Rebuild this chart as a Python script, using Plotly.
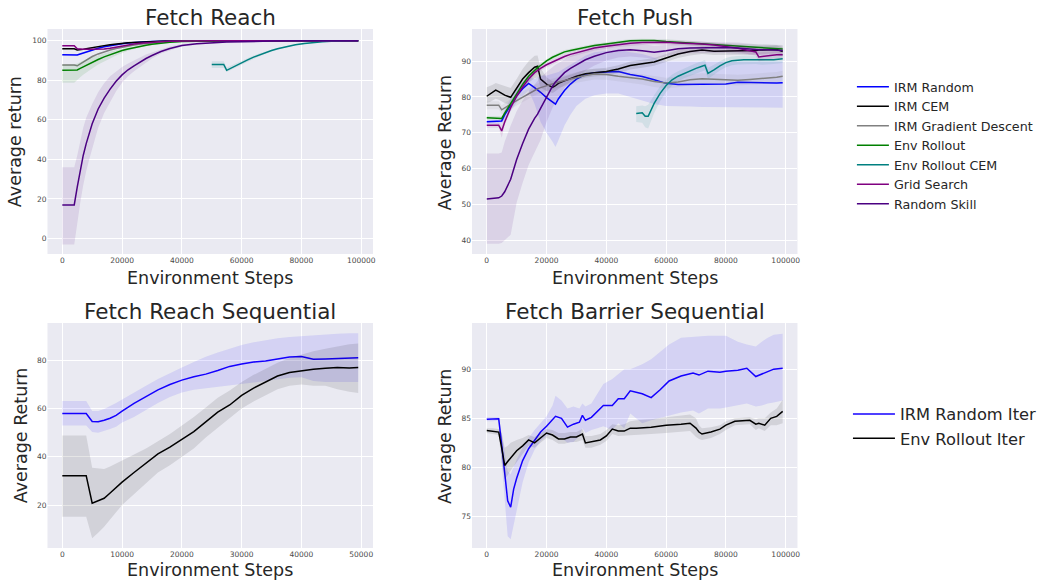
import plotly.graph_objects as go

W, H = 1042, 580

# ---------------- Fetch Reach ----------------
fr_x = [0, 1000, 2000, 3000, 4000, 5000, 6000, 7000, 8000, 9000, 10000, 12000, 14000, 16000, 18000,
        20000, 22000, 24000, 26000, 28000, 30000, 33000, 36000, 40000, 45000, 50000, 55000, 60000,
        65000, 70000, 80000, 90000, 99000]
fr_irm_random = [92.9, 92.9, 92.9, 92.9, 92.9, 92.8, 93.3, 93.8, 94.3, 94.8, 95.3, 96.2, 96.9, 97.5, 98.0,
                 98.4, 98.8, 99.1, 99.3, 99.5, 99.6, 99.75, 99.85, 99.9, 99.95, 99.97, 99.98, 100, 100, 100, 100, 100, 100]
fr_irm_cem = [95.9, 95.9, 95.9, 95.9, 95.9, 95.3, 95.3, 95.6, 95.9, 96.2, 96.5, 97.0, 97.5, 97.9, 98.3,
              98.6, 98.9, 99.1, 99.3, 99.5, 99.6, 99.75, 99.85, 99.92, 99.96, 99.98, 100, 100, 100, 100, 100, 100, 100]
fr_irm_gd = [87.7, 87.7, 87.7, 87.7, 87.7, 87.3, 88.3, 89.3, 90.3, 91.2, 92.0, 93.3, 94.4, 95.3, 96.0,
             96.7, 97.3, 97.8, 98.2, 98.6, 98.9, 99.3, 99.6, 99.8, 99.9, 99.95, 100, 100, 100, 100, 100, 100, 100]
fr_env = [85.0, 85.0, 85.0, 85.0, 85.0, 85.2, 86.0, 86.8, 87.6, 88.4, 89.1, 90.5, 91.8, 93.0, 94.0,
          95.0, 95.8, 96.5, 97.1, 97.7, 98.2, 98.8, 99.2, 99.6, 99.8, 99.9, 100, 100, 100, 100, 100, 100, 100]
fr_env_hi = [88.0, 88.0, 88.0, 88.0, 88.0, 88.5, 89.3, 90.0, 90.6, 91.2, 91.7, 92.7, 93.6, 94.5, 95.2,
             95.9, 96.5, 97.1, 97.6, 98.1, 98.5, 99.0, 99.4, 99.7, 99.85, 99.95, 100, 100, 100, 100, 100, 100, 100]
fr_env_lo = [78.8, 78.8, 78.8, 78.8, 78.8, 80.0, 81.5, 82.8, 84.0, 85.0, 86.0, 87.9, 89.5, 91.0, 92.5,
             93.8, 94.9, 95.8, 96.5, 97.2, 97.8, 98.5, 99.0, 99.4, 99.7, 99.85, 100, 100, 100, 100, 100, 100, 100]
fr_grid = [97.4, 97.4, 97.4, 97.4, 97.4, 95.9, 95.7, 95.7, 95.7, 95.7, 95.7, 95.7, 95.8, 96.2, 96.8,
           97.4, 97.9, 98.3, 98.7, 99.0, 99.2, 99.5, 99.7, 99.85, 99.95, 99.98, 100, 100, 100, 100, 100, 100, 100]
fr_rand = [17.0, 17.0, 17.0, 17.0, 17.0, 26.0, 35.0, 42.0, 48.0, 53.0, 58.0, 65.5, 71.0, 75.5, 79.5,
           82.7, 85.3, 87.3, 89.2, 91.0, 92.5, 94.5, 96.0, 97.6, 98.5, 99.0, 99.3, 99.5, 99.7, 99.8, 99.9, 100, 100]
fr_rand_hi = [36.0, 36.0, 36.0, 36.0, 36.0, 42.0, 50.0, 56.0, 61.0, 65.0, 68.0, 74.0, 78.5, 82.0, 84.5,
              86.7, 88.5, 90.0, 91.5, 93.0, 94.0, 95.5, 97.0, 98.3, 99.0, 99.4, 99.6, 99.8, 99.9, 100, 100, 100, 100]
fr_rand_lo = [-3.0, -3.0, -3.0, -3.0, -3.0, 8.0, 18.0, 27.0, 34.0, 40.0, 46.0, 56.0, 63.5, 69.0, 74.5,
              78.7, 82.0, 84.6, 87.0, 89.0, 91.0, 93.5, 95.0, 97.0, 98.0, 98.6, 99.0, 99.2, 99.5, 99.6, 99.8, 100, 100]
fr_cem_x = [50000, 51000, 52000, 53000, 54000, 55000, 56000, 58000, 60000, 62000, 64000, 66000, 68000,
            70000, 72000, 75000, 78000, 81000, 84000, 87000, 90000, 93000, 96000, 99000]
fr_cem = [88.0, 88.0, 88.0, 88.0, 88.0, 85.0, 85.8, 87.3, 88.8, 90.3, 91.7, 92.9, 94.0, 95.0, 95.9, 97.0,
          97.9, 98.6, 99.1, 99.4, 99.7, 99.85, 99.95, 100]
fr_cem_hi = [89.6, 89.6, 89.6, 89.6, 89.6, 86.4, 87.1, 88.5, 89.9, 91.2, 92.5, 93.6, 94.6, 95.5, 96.3, 97.3,
             98.1, 98.8, 99.2, 99.5, 99.75, 99.9, 99.97, 100.1]
fr_cem_lo = [86.2, 86.2, 86.2, 86.2, 86.2, 84.2, 84.9, 86.3, 87.8, 89.4, 90.9, 92.2, 93.4, 94.5, 95.5, 96.7,
             97.7, 98.4, 99.0, 99.3, 99.65, 99.8, 99.93, 99.9]

# ---------------- Fetch Push ----------------
fp_x = [0, 1000, 2000, 3000, 4000, 5000, 6000, 8000, 10000, 12000, 14000, 16000, 17000, 18000, 20000,
        22000, 23000, 24000, 26000, 28000, 30000, 33000, 36000, 40000, 44000, 48000, 52000, 56000, 60000,
        64000, 68000, 72000, 76000, 80000, 84000, 88000, 90000, 91000, 94000, 97000, 99000]
fp_irm_random = [73.1, 73.1, 73.1, 73.1, 73.1, 73.3, 75.0, 77.8, 80.3, 82.3, 83.8, 82.6, 82.0, 81.3, 79.8,
                 78.6, 78.0, 79.5, 81.8, 83.6, 85.0, 86.3, 86.8, 87.0, 87.1, 86.3, 85.7, 84.8, 83.8,
                 83.5, 83.5, 83.6, 83.6, 83.6, 84.1, 84.0, 84.0, 84.0, 83.9, 83.9, 84.0]
fp_irm_random_hi = [73.6, 73.6, 73.6, 73.6, 73.6, 74.0, 76.5, 79.5, 82.2, 84.3, 85.8, 85.0, 85.5, 86.0, 86.0,
                    86.5, 86.8, 87.0, 88.0, 89.0, 90.0, 91.5, 92.5, 93.0, 93.3, 92.5, 92.0, 91.0, 90.0,
                    90.0, 90.0, 90.0, 90.0, 90.0, 90.0, 90.0, 90.0, 90.0, 90.0, 90.0, 90.0]
fp_irm_random_lo = [72.6, 72.6, 72.6, 72.6, 72.6, 72.6, 73.5, 76.0, 78.4, 80.3, 81.8, 78.0, 75.5, 73.0, 70.0,
                    67.5, 66.0, 68.0, 72.0, 75.0, 77.5, 79.5, 80.5, 81.0, 81.0, 80.0, 79.0, 78.0, 77.5,
                    77.3, 77.3, 77.2, 77.2, 77.2, 77.1, 77.1, 77.0, 77.0, 77.0, 77.0, 77.0]
fp_irm_cem = [80.2, 80.8, 81.4, 81.9, 81.5, 81.0, 80.5, 79.9, 82.5, 85.0, 86.8, 88.3, 88.6, 85.0, 83.6,
              82.7, 83.2, 83.8, 84.5, 85.2, 85.8, 86.5, 86.8, 87.1, 87.8, 88.8, 89.3, 89.8, 90.9,
              92.0, 92.7, 93.1, 92.8, 92.8, 92.9, 92.8, 93.0, 93.1, 93.2, 93.3, 92.7]
fp_irm_cem_hi = [82.7, 83.0, 83.4, 83.9, 83.6, 83.4, 83.0, 82.5, 85.0, 87.8, 90.0, 91.5, 91.6, 88.0, 85.5,
                 84.3, 84.6, 85.1, 85.7, 86.3, 86.9, 87.6, 87.9, 88.2, 88.9, 89.9, 90.4, 90.9, 92.0,
                 93.1, 93.8, 94.2, 93.9, 93.9, 94.0, 93.9, 94.1, 94.2, 94.3, 94.4, 93.8]
fp_irm_cem_lo = [78.3, 78.6, 79.0, 79.5, 79.2, 78.8, 78.3, 77.8, 80.0, 82.5, 84.0, 85.2, 85.5, 82.5, 81.7,
                 81.1, 81.6, 82.3, 83.2, 84.1, 84.7, 85.4, 85.7, 86.0, 86.7, 87.7, 88.2, 88.7, 89.8,
                 90.9, 91.6, 92.0, 91.7, 91.7, 91.8, 91.7, 91.9, 92.0, 92.1, 92.2, 91.6]
fp_irm_gd = [77.7, 77.7, 77.7, 77.7, 77.7, 76.4, 77.0, 78.0, 79.0, 80.0, 81.0, 81.9, 82.3, 82.6, 83.2,
             83.7, 84.0, 84.2, 84.6, 85.0, 85.5, 86.0, 86.4, 86.3, 85.8, 85.5, 85.0, 84.3, 83.9,
             84.2, 84.8, 85.1, 85.0, 84.9, 84.7, 84.9, 85.0, 85.0, 85.2, 85.5, 85.8]
fp_irm_gd_hi = [78.8, 78.8, 78.8, 78.8, 78.8, 77.6, 78.3, 79.4, 80.5, 81.5, 82.5, 83.4, 83.8, 84.1, 84.7,
                85.2, 85.5, 85.7, 86.1, 86.5, 87.0, 87.5, 87.9, 87.8, 87.3, 87.0, 86.5, 85.8, 85.4,
                85.7, 86.3, 86.6, 86.5, 86.4, 86.2, 86.4, 86.5, 86.5, 86.7, 87.0, 87.3]
fp_irm_gd_lo = [76.6, 76.6, 76.6, 76.6, 76.6, 75.2, 75.7, 76.6, 77.5, 78.5, 79.5, 80.4, 80.8, 81.1, 81.7,
                82.2, 82.5, 82.7, 83.1, 83.5, 84.0, 84.5, 84.9, 84.8, 84.3, 84.0, 83.5, 82.8, 82.4,
                82.7, 83.3, 83.6, 83.5, 83.4, 83.2, 83.4, 83.5, 83.5, 83.7, 84.0, 84.3]
fp_env = [74.2, 74.2, 74.2, 74.2, 74.2, 74.0, 75.5, 78.3, 81.0, 83.5, 85.8, 87.5, 88.2, 88.8, 90.1,
          91.1, 91.5, 91.9, 92.6, 93.0, 93.4, 93.9, 94.4, 94.8, 95.3, 95.7, 95.8, 95.8, 95.5,
          95.3, 95.0, 94.8, 94.6, 94.4, 94.2, 94.1, 94.0, 93.9, 93.8, 93.6, 93.4]
fp_env_hi = [74.7, 74.7, 74.7, 74.7, 74.7, 74.6, 76.1, 78.9, 81.6, 84.1, 86.4, 88.1, 88.8, 89.4, 90.6,
             91.6, 92.0, 92.4, 93.1, 93.5, 93.9, 94.4, 94.9, 95.3, 95.8, 96.2, 96.3, 96.3, 96.1,
             95.9, 95.6, 95.4, 95.2, 95.0, 94.9, 94.8, 94.8, 94.7, 94.6, 94.5, 94.3]
fp_env_lo = [73.7, 73.7, 73.7, 73.7, 73.7, 73.4, 74.9, 77.7, 80.4, 82.9, 85.2, 86.9, 87.6, 88.2, 89.6,
             90.6, 91.0, 91.4, 92.1, 92.5, 92.9, 93.4, 93.9, 94.3, 94.8, 95.2, 95.3, 95.3, 94.9,
             94.7, 94.4, 94.2, 94.0, 93.8, 93.5, 93.4, 93.2, 93.1, 93.0, 92.7, 92.5]
fp_grid = [72.1, 72.1, 72.1, 72.1, 72.1, 70.5, 73.0, 77.0, 80.2, 82.8, 85.0, 86.8, 87.5, 88.0, 89.0,
           89.8, 90.2, 90.6, 91.3, 91.9, 92.4, 93.0, 93.7, 94.2, 94.7, 95.0, 95.2, 95.3, 95.3,
           95.1, 95.0, 94.8, 94.5, 94.1, 93.6, 92.9, 92.6, 91.2, 91.6, 91.8, 91.8]
fp_grid_hi = [72.8, 72.8, 72.8, 72.8, 72.8, 72.2, 74.0, 77.8, 81.0, 83.6, 85.8, 87.5, 88.2, 88.7, 89.7,
              90.5, 90.9, 91.3, 92.0, 92.6, 93.1, 93.7, 94.4, 94.9, 95.4, 95.7, 95.9, 96.0, 96.0,
              95.8, 95.7, 95.5, 95.2, 94.9, 94.5, 93.9, 93.7, 92.5, 92.7, 92.8, 92.8]
fp_grid_lo = [71.4, 71.4, 71.4, 71.4, 71.4, 68.6, 72.0, 76.2, 79.4, 82.0, 84.2, 86.1, 86.8, 87.3, 88.3,
              89.1, 89.5, 89.9, 90.6, 91.2, 91.7, 92.3, 93.0, 93.5, 94.0, 94.3, 94.5, 94.6, 94.6,
              94.4, 94.3, 94.1, 93.8, 93.3, 92.7, 91.9, 91.5, 89.9, 90.5, 90.8, 90.8]
fp_rand = [51.5, 51.6, 51.7, 51.7, 51.8, 52.3, 53.5, 57.0, 62.5, 67.0, 71.0, 74.0, 75.2, 76.8, 80.0,
           83.0, 84.2, 85.1, 86.8, 88.0, 89.0, 90.4, 91.4, 92.4, 93.0, 93.2, 92.9, 92.5, 92.9,
           93.5, 93.7, 93.8, 93.8, 93.8, 93.7, 93.4, 93.3, 93.2, 93.2, 93.0, 93.0]
fp_rand_hi = [64.2, 64.2, 64.2, 64.2, 64.2, 64.5, 67.5, 72.0, 76.0, 79.0, 81.5, 83.5, 84.5, 85.5, 87.0,
              88.5, 89.0, 89.5, 90.5, 91.5, 92.5, 93.3, 94.0, 94.5, 95.0, 95.3, 94.8, 94.3, 94.5,
              95.0, 95.2, 95.3, 95.3, 95.3, 95.2, 94.9, 94.8, 94.7, 94.7, 94.5, 94.5]
fp_rand_lo = [39.0, 39.0, 39.0, 39.0, 39.0, 39.2, 39.8, 41.5, 50.5, 56.0, 61.0, 64.5, 66.3, 68.0, 73.0,
              77.0, 78.5, 80.0, 82.5, 84.2, 85.5, 87.3, 88.8, 90.2, 91.0, 91.3, 91.0, 90.7, 91.3,
              92.0, 92.2, 92.3, 92.3, 92.3, 92.2, 91.9, 91.8, 91.7, 91.7, 91.5, 91.5]
fp_cem_x = [50000, 52000, 53000, 54000, 56000, 58000, 60000, 62000, 64000, 66000, 68000, 70000, 72000,
            73000, 74000, 75000, 76000, 78000, 80000, 82000, 84000, 86000, 88000, 90000, 92000, 94000,
            96000, 99000]
fp_cem = [75.4, 75.6, 74.6, 74.6, 78.2, 81.0, 83.2, 84.8, 85.8, 86.6, 87.3, 88.0, 88.6, 88.9, 86.6,
          87.0, 87.6, 88.7, 89.6, 90.1, 90.3, 90.4, 90.4, 90.4, 90.2, 90.3, 90.4, 90.7]
fp_cem_hi = [77.4, 77.6, 77.4, 77.8, 80.5, 83.0, 84.8, 86.3, 87.2, 88.0, 88.7, 89.4, 90.0, 90.3, 88.2,
             88.5, 89.0, 90.0, 90.9, 91.3, 91.5, 91.6, 91.6, 91.6, 91.4, 91.5, 91.6, 91.9]
fp_cem_lo = [73.0, 72.8, 71.5, 71.2, 75.5, 78.8, 81.4, 83.2, 84.3, 85.2, 85.9, 86.6, 87.2, 87.5, 85.0,
             85.5, 86.2, 87.4, 88.3, 88.9, 89.1, 89.2, 89.2, 89.2, 89.0, 89.1, 89.2, 89.5]

# ---------------- Fetch Reach Sequential ----------------
frs_x = [0, 1000, 2000, 3000, 4000, 5000, 6000, 7000, 8000, 9000, 10000, 12000, 14000, 16000, 18000,
         20000, 22000, 24000, 26000, 28000, 30000, 32000, 34000, 36000, 38000, 40000, 42000, 44000,
         46000, 48000, 49500]
frs_irm = [58.0, 58.0, 58.0, 58.0, 58.0, 54.7, 54.6, 55.2, 56.0, 57.2, 59.0, 62.2, 65.0, 67.8, 70.0,
           71.8, 73.2, 74.3, 75.8, 77.5, 78.5, 79.3, 79.7, 80.6, 81.4, 81.6, 80.5, 80.6, 80.8, 81.2, 81.1]
frs_irm_hi = [63.2, 63.2, 63.2, 63.2, 63.2, 59.0, 59.0, 59.8, 61.0, 62.3, 63.8, 66.5, 69.5, 72.3, 74.8,
              77.0, 79.3, 81.5, 83.3, 85.0, 86.4, 87.5, 88.4, 89.2, 89.7, 90.1, 90.4, 90.7, 91.0, 91.3, 91.3]
frs_irm_lo = [53.0, 53.0, 53.0, 53.0, 53.0, 50.3, 50.0, 50.6, 51.5, 52.5, 54.2, 56.5, 59.5, 62.3, 64.8,
              66.7, 67.8, 68.5, 69.2, 69.8, 70.2, 70.8, 71.5, 72.3, 72.8, 73.0, 71.5, 71.0, 71.3, 71.0, 71.0]
frs_env = [32.2, 32.2, 32.2, 32.2, 32.2, 20.8, 21.8, 22.8, 25.0, 27.3, 29.5, 33.5, 37.5, 41.2, 44.0,
           47.3, 50.5, 54.5, 58.5, 61.5, 65.5, 68.5, 71.0, 73.5, 75.0, 75.8, 76.3, 76.7, 77.0, 76.8, 77.0]
frs_env_hi = [48.8, 48.8, 48.8, 48.8, 48.8, 35.5, 35.3, 35.0, 36.0, 37.2, 38.5, 41.0, 43.5, 46.5, 49.5,
              53.0, 56.5, 60.5, 64.5, 67.5, 71.0, 74.0, 76.5, 79.0, 81.0, 82.5, 83.8, 84.8, 85.8, 86.7, 87.0]
frs_env_lo = [15.2, 15.2, 15.2, 15.2, 15.2, 6.2, 8.5, 11.0, 14.0, 17.0, 20.0, 24.5, 29.0, 33.5, 36.5,
              40.0, 43.5, 48.0, 52.0, 56.0, 60.0, 63.0, 65.5, 68.0, 69.5, 70.0, 69.5, 69.5, 68.0, 67.0, 66.5]

# ---------------- Fetch Barrier Sequential ----------------
fbs_irm_x = [0, 2000, 4000, 5000, 6000, 7000, 8000, 9000, 10000, 12000, 14000, 16000, 18000, 20000, 22000,
             23000, 25000, 27000, 29000, 31000, 32000, 33000, 35000, 37000, 39000, 42000, 44000, 46000,
             48000, 52000, 55000, 58000, 61000, 65000, 69000, 71000, 74000, 78000, 80000, 84000, 87000,
             90000, 92000, 94000, 96000, 99000]
fbs_irm = [84.9, 84.9, 84.95, 82.3, 79.5, 76.6, 75.95, 77.8, 78.9, 80.7, 81.9, 82.8, 83.6, 84.2, 84.9,
           85.2, 85.0, 84.1, 84.4, 84.6, 85.3, 84.8, 85.1, 85.7, 86.3, 86.3, 87.0, 87.0, 87.8, 87.5, 87.1,
           87.9, 88.8, 89.3, 89.6, 89.4, 89.8, 89.7, 89.8, 89.9, 90.1, 89.25, 89.5, 89.7, 90.0, 90.1]
fbs_irm_hi = [85.1, 85.1, 85.1, 83.5, 81.5, 79.6, 79.3, 80.0, 80.8, 82.0, 83.0, 83.8, 84.5, 85.2, 86.3,
              87.3, 86.8, 86.0, 86.2, 86.0, 86.5, 86.2, 86.5, 87.5, 88.5, 89.0, 89.5, 90.0, 90.0, 90.5,
              91.0, 91.8, 92.5, 93.2, 93.3, 93.3, 93.4, 93.4, 93.4, 92.8, 92.5, 92.3, 92.8, 93.2, 93.5, 93.6]
fbs_irm_lo = [84.7, 84.7, 84.8, 80.5, 76.5, 73.0, 72.7, 74.0, 75.5, 78.5, 80.5, 81.8, 82.7, 83.2, 83.5,
              83.2, 83.0, 82.5, 82.6, 83.2, 84.0, 83.5, 83.8, 84.0, 84.2, 83.8, 84.5, 84.0, 85.5, 84.5,
              84.8, 85.0, 85.3, 85.6, 85.8, 85.5, 86.0, 86.0, 86.1, 86.3, 86.5, 86.2, 86.3, 86.5, 86.6, 86.8]
fbs_env_x = [0, 2000, 4000, 5000, 6000, 7000, 8000, 10000, 12000, 14000, 16000, 18000, 20000, 22000, 24000,
             26000, 28000, 30000, 32000, 33000, 35000, 38000, 40000, 42000, 44000, 46000, 48000, 50000,
             55000, 60000, 65000, 68000, 70000, 71000, 72000, 75000, 78000, 80000, 83000, 88000, 90000,
             91000, 93000, 95000, 97000, 99000]
fbs_env = [83.75, 83.7, 83.6, 82.0, 80.2, 80.6, 81.0, 81.7, 82.2, 82.8, 82.5, 83.0, 83.5, 83.3, 82.9,
           82.9, 83.1, 83.1, 83.4, 82.5, 82.6, 82.8, 83.2, 83.9, 83.7, 83.7, 84.0, 84.0, 84.1, 84.3, 84.4,
           84.5, 84.0, 83.6, 83.4, 83.6, 83.9, 84.3, 84.7, 84.8, 84.4, 84.5, 84.3, 85.0, 85.2, 85.7]
fbs_env_hi = [84.0, 84.0, 83.9, 83.5, 82.0, 82.2, 82.5, 82.8, 83.0, 83.3, 83.1, 83.5, 83.9, 83.8, 83.5,
              83.5, 83.6, 83.6, 83.9, 83.2, 83.2, 83.4, 83.8, 84.4, 84.3, 84.4, 84.7, 84.8, 84.9, 85.1,
              85.3, 85.4, 85.0, 84.3, 84.0, 84.1, 84.3, 84.7, 85.0, 85.1, 84.9, 85.0, 85.0, 85.6, 86.0, 86.9]
fbs_env_lo = [83.5, 83.4, 83.3, 80.5, 78.8, 79.2, 79.7, 80.6, 81.4, 82.2, 82.0, 82.5, 83.0, 82.8, 82.4,
              82.4, 82.6, 82.6, 82.8, 82.0, 82.0, 82.3, 82.7, 83.4, 83.2, 83.2, 83.3, 83.3, 83.4, 83.5,
              83.6, 83.7, 83.1, 82.9, 82.8, 83.0, 83.4, 83.8, 84.3, 84.4, 83.8, 84.0, 83.7, 84.3, 84.3, 84.5]

# ---------------- text ----------------
titles = ["Fetch Reach", "Fetch Push", "Fetch Reach Sequential", "Fetch Barrier Sequential"]
y_titles = ["Average return", "Average Return", "Average Return", "Average Return"]
x_title = "Environment Steps"

COL = {"IRM Random": "#0000ff", "IRM CEM": "#000000", "IRM Gradient Descent": "#808080",
       "Env Rollout": "#008000", "Env Rollout CEM": "#008080", "Grid Search": "#800080",
       "Random Skill": "#4b0082", "IRM Random Iter": "#1400ff", "Env Rollout Iter": "#000000"}


def rgba(hexc, a):
    h = hexc.lstrip("#")
    return "rgba(%d,%d,%d,%s)" % (int(h[0:2], 16), int(h[2:4], 16), int(h[4:6], 16), a)


fig = go.Figure()


def add(name, x, y, lo, hi, ax, show, legend="legend"):
    xa = "x" if ax == 1 else "x%d" % ax
    ya = "y" if ax == 1 else "y%d" % ax
    c = COL[name]
    if lo is not None:
        fig.add_trace(go.Scatter(x=list(x) + list(x)[::-1], y=list(hi) + list(lo)[::-1], fill="toself",
                                 fillcolor=rgba(c, 0.1), line=dict(width=0), mode="lines",
                                 hoverinfo="skip", showlegend=False, xaxis=xa, yaxis=ya))
    fig.add_trace(go.Scatter(x=x, y=y, mode="lines", name=name, line=dict(color=c, width=1.5),
                             legendgroup=name, showlegend=show, legend=legend, xaxis=xa, yaxis=ya))


def small(y, d):
    return [v - d for v in y], [v + d for v in y]


# Fetch Reach
lo, hi = small(fr_irm_random, 0.3)
add("IRM Random", fr_x, fr_irm_random, lo, hi, 1, True)
lo, hi = small(fr_irm_cem, 0.3)
add("IRM CEM", fr_x, fr_irm_cem, lo, hi, 1, True)
lo, hi = small(fr_irm_gd, 0.3)
add("IRM Gradient Descent", fr_x, fr_irm_gd, lo, hi, 1, True)
add("Env Rollout", fr_x, fr_env, fr_env_lo, fr_env_hi, 1, True)
add("Env Rollout CEM", fr_cem_x, fr_cem, fr_cem_lo, fr_cem_hi, 1, True)
lo, hi = small(fr_grid, 0.3)
add("Grid Search", fr_x, fr_grid, lo, hi, 1, True)
add("Random Skill", fr_x, fr_rand, fr_rand_lo, fr_rand_hi, 1, True)

# Fetch Push
add("IRM Random", fp_x, fp_irm_random, fp_irm_random_lo, fp_irm_random_hi, 2, False)
add("IRM CEM", fp_x, fp_irm_cem, fp_irm_cem_lo, fp_irm_cem_hi, 2, False)
add("IRM Gradient Descent", fp_x, fp_irm_gd, fp_irm_gd_lo, fp_irm_gd_hi, 2, False)
add("Env Rollout", fp_x, fp_env, fp_env_lo, fp_env_hi, 2, False)
add("Env Rollout CEM", fp_cem_x, fp_cem, fp_cem_lo, fp_cem_hi, 2, False)
add("Grid Search", fp_x, fp_grid, fp_grid_lo, fp_grid_hi, 2, False)
add("Random Skill", fp_x, fp_rand, fp_rand_lo, fp_rand_hi, 2, False)

# Sequential
add("IRM Random Iter", frs_x, frs_irm, frs_irm_lo, frs_irm_hi, 3, True, "legend2")
add("Env Rollout Iter", frs_x, frs_env, frs_env_lo, frs_env_hi, 3, True, "legend2")
add("IRM Random Iter", fbs_irm_x, fbs_irm, fbs_irm_lo, fbs_irm_hi, 4, False, "legend2")
add("Env Rollout Iter", fbs_env_x, fbs_env, fbs_env_lo, fbs_env_hi, 4, False, "legend2")


def px(p):
    return p / W


def py(p):
    return 1 - p / H


TXT = "#262626"
FONT = "DejaVu Sans"
ax_common = dict(showgrid=True, gridcolor="white", gridwidth=1.1, zeroline=False, showline=False,
                 ticks="", tickformat="d", tickfont=dict(size=7.5, color="#4a4a4a", family=FONT))

x_dom_l = [px(48), px(377)]
x_dom_r = [px(477), px(806)]
y_dom_t = [py(254), py(29)]
y_dom_b = [py(548), py(323)]

fig.update_layout(
    xaxis=dict(domain=x_dom_l, anchor="y", range=[-4950, 103950], dtick=20000, **ax_common),
    yaxis=dict(domain=y_dom_t, anchor="x", range=[-7.8, 105.9], dtick=20, **ax_common),
    xaxis2=dict(domain=x_dom_r, anchor="y2", range=[-4950, 103950], dtick=20000, **ax_common),
    yaxis2=dict(domain=y_dom_t, anchor="x2", range=[36.1, 99.0], dtick=10, **ax_common),
    xaxis3=dict(domain=x_dom_l, anchor="y3", range=[-2475, 51975], dtick=10000, **ax_common),
    yaxis3=dict(domain=y_dom_b, anchor="x3", range=[2.2, 95.5], dtick=20, **ax_common),
    xaxis4=dict(domain=x_dom_r, anchor="y4", range=[-4950, 103950], dtick=20000, **ax_common),
    yaxis4=dict(domain=y_dom_b, anchor="x4", range=[71.8, 94.7], dtick=5, **ax_common),
    plot_bgcolor="#eaeaf2",
    paper_bgcolor="white",
    width=W, height=H,
    margin=dict(l=0, r=0, t=0, b=0),
    font=dict(family=FONT, color=TXT),
    legend=dict(x=px(861), y=py(72), xanchor="left", yanchor="top", font=dict(size=12.7, color=TXT),
                bgcolor="rgba(0,0,0,0)", tracegroupgap=0, itemwidth=32),
    legend2=dict(x=px(857), y=py(397), xanchor="left", yanchor="top", font=dict(size=16.3, color=TXT),
                 bgcolor="rgba(0,0,0,0)", tracegroupgap=0, itemwidth=42),
)

ann = []
centers = [(212.5, 18, 278, 15.3, 142), (641.5, 18, 278, 449.7, 142.5),
           (212.5, 311.3, 570.3, 21, 435.5), (641.5, 311.3, 570.3, 450, 435.8)]
for i, (cx, ty, xty, ylx, yly) in enumerate(centers):
    ann.append(dict(text=titles[i], x=px(cx), y=py(ty), xref="paper", yref="paper", showarrow=False,
                    xanchor="center", yanchor="middle", font=dict(size=21.5, color=TXT, family=FONT)))
    ann.append(dict(text=x_title, x=px(cx), y=py(xty), xref="paper", yref="paper", showarrow=False,
                    xanchor="center", yanchor="middle", font=dict(size=17.5, color=TXT, family=FONT)))
    ann.append(dict(text=y_titles[i], x=px(ylx), y=py(yly), xref="paper", yref="paper", showarrow=False,
                    xanchor="center", yanchor="middle", textangle=-90,
                    font=dict(size=17.5, color=TXT, family=FONT)))
fig.update_layout(annotations=ann)

fig.write_html("out.html", config={"displayModeBar": False},
               post_script="document.body.style.margin='0px';document.body.style.overflow='hidden';")
